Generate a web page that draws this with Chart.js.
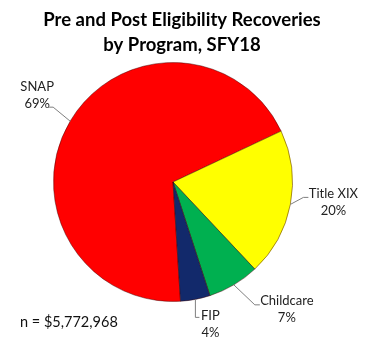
<!DOCTYPE html>
<html>
<head>
<meta charset="utf-8">
<script src="https://cdn.jsdelivr.net/npm/chart.js@4/dist/chart.umd.min.js"></script>
<style>
  html, body { margin: 0; padding: 0; background: #fff; }
  #wrap { width: 369px; height: 337px; }
</style>
</head>
<body>
<div id="wrap"><canvas id="chart"></canvas></div>
<script>
// Data
const programs = ['SNAP', 'Title XIX', 'Childcare', 'FIP'];
const shares = [69, 20, 7, 4];
const sliceColors = ['#ff0000', '#ffff00', '#00b050', '#12296b'];
const titleLines = ['Pre and Post Eligibility Recoveries', 'by Program, SFY18'];
const totalNote = 'n = $5,772,968';

// where each label sits relative to its slice edge point
// elbow: leader bend, tail: short horizontal end, text: centre of the label block
const labelLayout = [
  { elbow: [-17, -14], tail: 4, text: [-33, -26] },
  { elbow: [13, -7], tail: 5, text: [43, -3] },
  { elbow: [21, 20], tail: 5, text: [53, 24] },
  { elbow: [0, 18], tail: 4, text: [15, 24] }
];

const FONT = 'Lato, "Open Sans", sans-serif';

const labelPlugin = {
  id: 'pieLabels',
  afterDraw(chart) {
    const ctx = chart.ctx;
    const meta = chart.getDatasetMeta(0);
    ctx.save();
    // title
    ctx.fillStyle = '#000';
    ctx.textAlign = 'center';
    ctx.textBaseline = 'middle';
    ctx.font = 'bold 18.5px ' + FONT;
    ctx.fillText(titleLines[0], 182, 20);
    ctx.fillText(titleLines[1], 182, 45);

    // slice labels with leader lines
    ctx.font = '13px ' + FONT;
    ctx.fillStyle = '#222';
    meta.data.forEach((arc, i) => {
      const p = arc.getProps(['x', 'y', 'startAngle', 'endAngle', 'outerRadius'], true);
      const mid = (p.startAngle + p.endAngle) / 2;
      const ex = p.x + Math.cos(mid) * p.outerRadius;
      const ey = p.y + Math.sin(mid) * p.outerRadius;
      const L = labelLayout[i];
      const bx = ex + L.elbow[0];
      const by = ey + L.elbow[1];
      const dir = L.elbow[0] < 0 ? -1 : 1;
      ctx.strokeStyle = '#7f7f7f';
      ctx.lineWidth = 1;
      ctx.beginPath();
      ctx.moveTo(ex, ey);
      ctx.lineTo(bx, by);
      if (L.tail) ctx.lineTo(bx + dir * L.tail, by);
      ctx.stroke();

      const tx = ex + L.text[0];
      const ty = ey + L.text[1];
      ctx.textAlign = 'center';
      ctx.fillText(programs[i], tx, ty - 8);
      ctx.fillText(shares[i] + '%', tx, ty + 9);
    });

    ctx.textAlign = 'left';
    ctx.fillStyle = '#111';
    ctx.font = '14.5px ' + FONT;
    ctx.fillText(totalNote, 20, 322);
    ctx.restore();
  }
};

new Chart(document.getElementById('chart'), {
  type: 'pie',
  data: {
    labels: programs,
    datasets: [{
      data: shares,
      backgroundColor: sliceColors,
      borderColor: 'rgba(60,0,0,0.45)',
      borderWidth: 1
    }]
  },
  options: {
    responsive: true,
    maintainAspectRatio: false,
    animation: false,
    rotation: 176.4,
    layout: { padding: { left: 53, right: 76, top: 62, bottom: 35 } },
    plugins: {
      legend: { display: false },
      tooltip: { enabled: false },
      title: { display: false }
    }
  },
  plugins: [labelPlugin]
});
</script>
</body>
</html>
